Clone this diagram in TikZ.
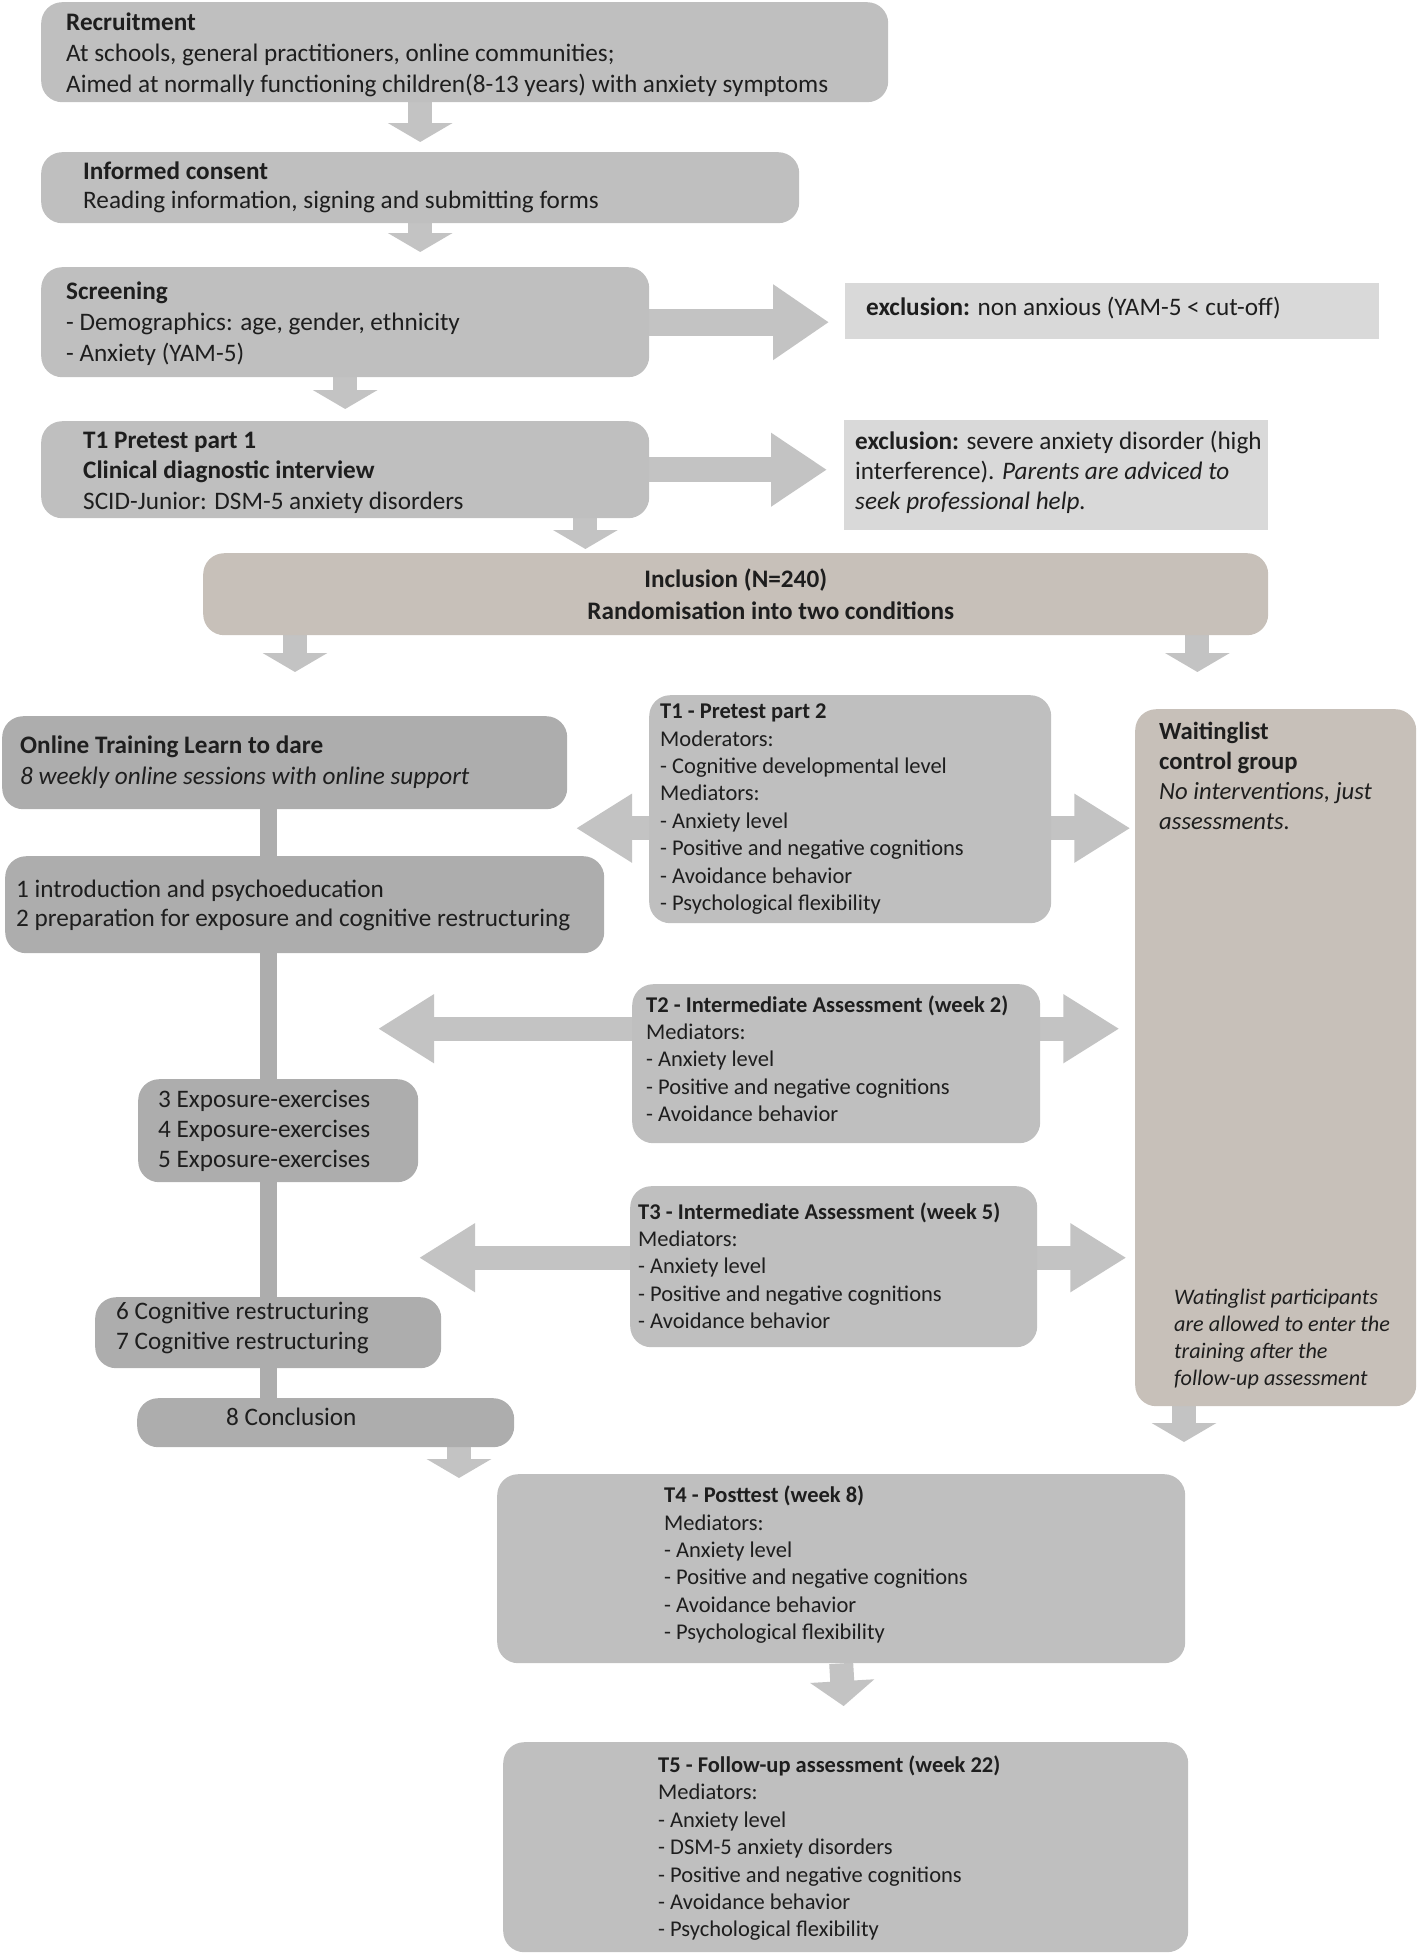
\documentclass[tikz,border=0pt]{standalone}
\usepackage{fontspec}
\setmainfont{Carlito}
\usetikzlibrary{arrows.meta,calc}
\definecolor{boxg}{HTML}{BFBFBF}
\definecolor{darkg}{HTML}{ADADAD}
\definecolor{lightg}{HTML}{D9D9D9}
\definecolor{beige}{HTML}{C7C0B9}
\definecolor{arrg}{HTML}{C3C3C3}
\definecolor{txtc}{HTML}{1E1E1E}
\pgfdeclarelayer{bg}
\pgfsetlayers{bg,main}
\tikzset{
  box/.style={fill=boxg, draw=none, rounded corners=21pt, inner sep=0pt, anchor=north west},
  dbox/.style={box, fill=darkg},
  bbox/.style={box, fill=beige},
  ebox/.style={fill=lightg, draw=none, inner sep=0pt, anchor=north west},
  tx/.style={inner sep=0pt, align=left, text=txtc, anchor=west},
  big/.style={font=\fontsize{25.2}{30.5}\selectfont},
  small/.style={font=\fontsize{22.5}{27.4}\selectfont},
  varr/.style={draw=arrg, line width=24pt, -{Triangle[width=64pt,length=19pt]}},
  harr/.style={draw=arrg, line width=25pt, -{Triangle[width=70pt,length=56pt]}},
  darr/.style={draw=arrg, line width=24pt, {Triangle[width=65pt,length=56pt]}-{Triangle[width=65pt,length=56pt]}},
  vline/.style={draw=darkg, line width=17pt}
}
\begin{document}
\begin{tikzpicture}[x=1pt,y=-1pt]
\useasboundingbox (0,0) rectangle (1418,1954);
% boxes
\node[box, minimum width=847pt, minimum height=100pt] (rec) at (41,2) {};
\node[box, minimum width=758pt, minimum height=71pt] (ic) at (41,152) {};
\node[box, minimum width=608pt, minimum height=110pt] (scr) at (41,267) {};
\node[ebox, minimum width=534pt, minimum height=56pt] (ex1) at (845,283) {};
\node[box, minimum width=608pt, minimum height=97pt] (t1a) at (41,421) {};
\node[ebox, minimum width=424pt, minimum height=110pt] (ex2) at (844,420) {};
\node[bbox, minimum width=1065pt, minimum height=82pt] (inc) at (203,553) {};
\node[dbox, minimum width=565pt, minimum height=93pt] (train) at (2,716) {};
\node[dbox, minimum width=599pt, minimum height=97pt] (intro) at (5,856) {};
\node[dbox, minimum width=280pt, minimum height=103pt] (expo) at (138,1079) {};
\node[dbox, minimum width=346pt, minimum height=71pt] (cog) at (95,1297) {};
\node[dbox, minimum width=377pt, minimum height=49pt] (concl) at (137,1398) {};
\node[bbox, minimum width=281pt, minimum height=697pt] (wait) at (1135,709) {};
\node[box, minimum width=402pt, minimum height=228pt] (t1b) at (649,695) {};
\node[box, minimum width=408pt, minimum height=159pt] (t2) at (632,984) {};
\node[box, minimum width=407pt, minimum height=161pt] (t3) at (630,1186) {};
\node[box, minimum width=688pt, minimum height=189pt] (t4) at (497,1474) {};
\node[box, minimum width=685pt, minimum height=210pt] (t5) at (503,1742) {};

% texts
\node[tx, big, font=\fontsize{25.2}{31}\selectfont] (recT) at ($(rec.west)+(25,3)$) {\textbf{Recruitment}\\At schools, general practitioners, online communities;\\Aimed at normally functioning children(8-13 years) with anxiety symptoms};
\node[tx, big, font=\fontsize{25.2}{29}\selectfont] (icT) at ($(ic.west)+(42,0)$) {\textbf{Informed consent}\\Reading information, signing and submitting forms};
\node[tx, big, font=\fontsize{25.2}{31}\selectfont] (scrT) at ($(scr.west)+(25,1)$) {\textbf{Screening}\\- Demographics: age, gender, ethnicity\\- Anxiety (YAM-5)};
\node[tx, big] (ex1T) at ($(ex1.west)+(21,-3)$) {\textbf{exclusion:} non anxious (YAM-5 < cut-off)};
\node[tx, big] (t1aT) at ($(t1a.west)+(42,3)$) {\textbf{T1 Pretest part 1}\\\textbf{Clinical diagnostic interview}\\SCID-Junior: DSM-5 anxiety disorders};
\node[tx, big, font=\fontsize{25.2}{30}\selectfont] (ex2T) at ($(ex2.west)+(11,-3)$) {\textbf{exclusion:} severe anxiety disorder (high\\interference). \textit{Parents are adviced to}\\\textit{seek professional help.}};
\node[inner sep=0pt, align=center, text=txtc, font=\bfseries\fontsize{25.2}{32}\selectfont] (incT) at (inc.center) {Inclusion (N=240)\\\hspace*{70pt}Randomisation into two conditions};
\node[tx, big, font=\fontsize{25.2}{31}\selectfont] (trainT) at ($(train.west)+(18,-1)$) {\textbf{Online Training Learn to dare}\\\textit{8 weekly online sessions with online support}};
\node[tx, big, font=\fontsize{25.2}{29}\selectfont] (introT) at ($(intro.west)+(11,1)$) {1 introduction and psychoeducation\\2 preparation for exposure and cognitive restructuring};
\node[tx, big, font=\fontsize{25.2}{30}\selectfont] (expoT) at ($(expo.west)+(20,0)$) {3 Exposure-exercises\\4 Exposure-exercises\\5 Exposure-exercises};
\node[tx, big, font=\fontsize{25.2}{30}\selectfont] (cogT) at ($(cog.west)+(21,-5)$) {6 Cognitive restructuring\\7 Cognitive restructuring};
\node[tx, big] (conclT) at ($(concl.west)+(89,-6)$) {8 Conclusion};
\node[tx, big, font=\fontsize{24.7}{30}\selectfont] (waitT) at ($(wait.north west)+(24,67)$) {\textbf{Waitinglist}\\\textbf{control group}\\\textit{No interventions, just}\\\textit{assessments.}};
\node[tx, font=\itshape\fontsize{22.2}{27}\selectfont] (waitB) at ($(wait.north west)+(39,630)$) {Watinglist participants\\are allowed to enter the\\training after the\\follow-up assessment};
\node[tx, small] (t1bT) at ($(t1b.west)+(11,0)$) {\textbf{T1 - Pretest part 2}\\Moderators:\\- Cognitive developmental level\\Mediators:\\- Anxiety level\\- Positive and negative cognitions\\- Avoidance behavior\\- Psychological flexibility};
\node[tx, small] (t2T) at ($(t2.west)+(14,-5)$) {\textbf{T2 - Intermediate Assessment (week 2)}\\Mediators:\\- Anxiety level\\- Positive and negative cognitions\\- Avoidance behavior};
\node[tx, small] (t3T) at ($(t3.west)+(8,-1)$) {\textbf{T3 - Intermediate Assessment (week 5)}\\Mediators:\\- Anxiety level\\- Positive and negative cognitions\\- Avoidance behavior};
\node[tx, small] (t4T) at ($(t4.west)+(167,-4)$) {\textbf{T4 - Posttest (week 8)}\\Mediators:\\- Anxiety level\\- Positive and negative cognitions\\- Avoidance behavior\\- Psychological flexibility};
\node[tx, small] (t5T) at ($(t5.west)+(155,1)$) {\textbf{T5 - Follow-up assessment (week 22)}\\Mediators:\\- Anxiety level\\- DSM-5 anxiety disorders\\- Positive and negative cognitions\\- Avoidance behavior\\- Psychological flexibility};

% helper coordinates
\coordinate (a6s) at ($(t1a.south east)+(-64,0)$);
\coordinate (a7s) at ($(inc.south west)+(92,0)$);
\coordinate (a8s) at ($(inc.south east)+(-71,0)$);
\coordinate (a9s) at ($(concl.south west)+(322,0)$);
\coordinate (a9e) at ($(a9s |- t4.north)+(0,4)$);
\coordinate (a10s) at ($(wait.south west)+(49,0)$);
\coordinate (vl) at ($(train.south west)+(266,0)$);
\coordinate (d1l) at ($(t1b.west)+(-73,19)$);
\coordinate (d1r) at ($(t1b.east)+(79,19)$);
\coordinate (d2l) at ($(t2.west)+(-254,-35)$);
\coordinate (d2r) at ($(t2.east)+(79,-35)$);
\coordinate (d3l) at ($(t3.west)+(-211,-9)$);
\coordinate (d3r) at ($(t3.east)+(89,-9)$);

\begin{pgfonlayer}{bg}
\draw[vline] (vl) -- (vl |- concl.north);
\draw[varr, shorten >=10pt] (rec.south -| ic.north) -- (ic.north);
\draw[varr, shorten >=15pt] (ic.south) -- (scr.north -| ic.south);
\draw[varr, shorten >=12pt] (scr.south) -- (t1a.north);
\draw[harr, line width=27pt, -{Triangle[width=72pt,length=56pt]}, shorten >=16pt] (scr.east) -- (scr.east -| ex1.west);
\draw[harr, shorten >=17pt] (t1a.east) -- (t1a.east -| ex2.west);
\draw[varr, shorten >=4pt] (a6s) -- (a6s |- inc.north);
\draw[varr, shorten >=44pt] (a7s) -- (a7s |- train.north);
\draw[varr, shorten >=37pt] (a8s) -- (a8s |- wait.north);
\draw[varr] (a9s) -- (a9e);
\draw[varr, shorten >=32pt] (a10s) -- (a10s |- t4.north);
\draw[varr, -{Triangle[width=63pt,length=25pt]}, shorten >=36pt] (t4.south) -- (t5.north);
\draw[darr] (d1l) -- (d1r);
\draw[darr] (d2l) -- (d2r);
\draw[darr] (d3l) -- (d3r);
\end{pgfonlayer}
\end{tikzpicture}
\end{document}
